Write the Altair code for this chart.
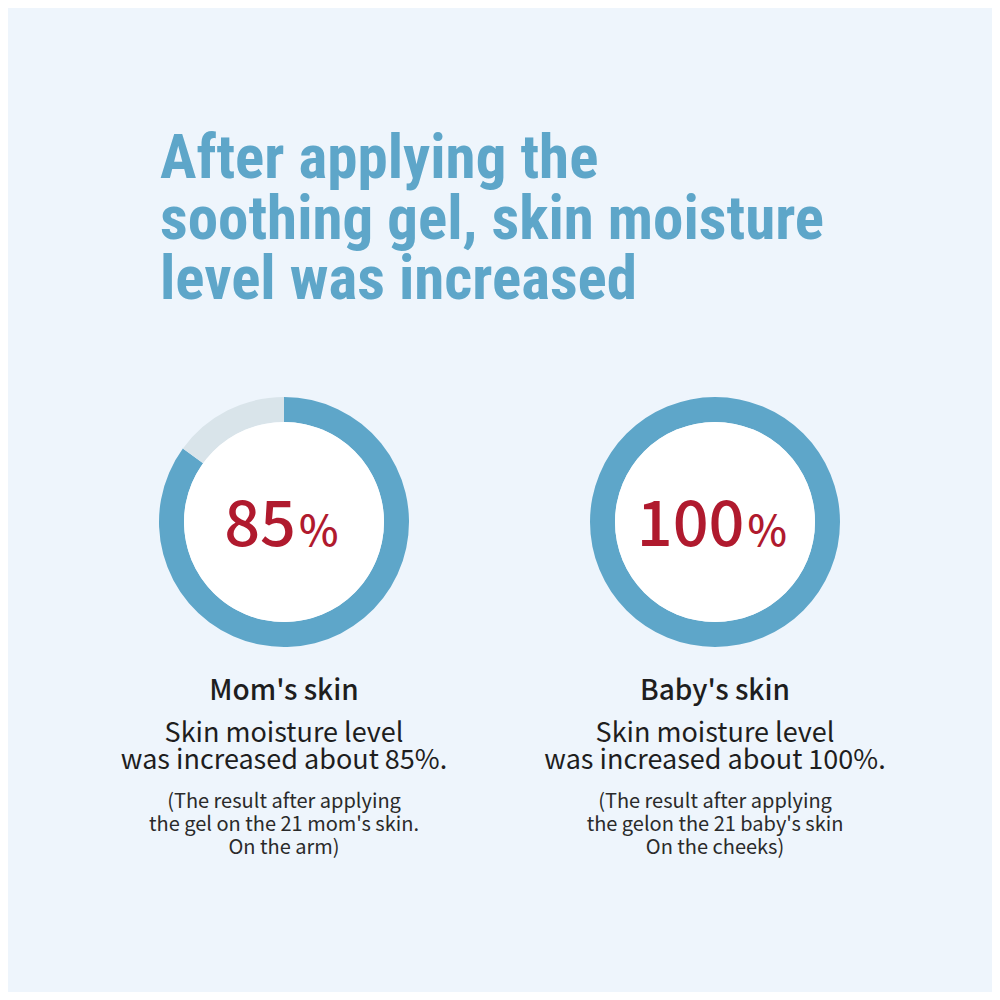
import altair as alt
import pandas as pd

# ---- data ----
title_lines = ["After applying the", "soothing gel, skin moisture", "level was increased"]
skins = ["Mom's skin", "Baby's skin"]
increase = [85, 100]
headline = ["Skin moisture level", "Skin moisture level"]
detail = ["was increased about 85%.", "was increased about 100%."]
notes = [
    ["(The result after applying", "the gel on the 21 mom's skin.", "On the arm)"],
    ["(The result after applying", "the gelon the 21 baby's skin", "On the cheeks)"],
]

# ---- style / layout ----
BG = "#eef5fc"
BLUE = "#5ea6c9"
GREY = "#d9e4ea"
RED = "#b01a2e"
DARK = "#1e1e1e"
FONT = "Noto Sans CJK KR"
TFONT = "Roboto Condensed"
OFF = 8
W = H = 984
centers_x = [284, 715]
center_y = 522
R_OUT, R_IN = 125, 100

layers = []
one = pd.DataFrame({"k": [0]})

layers.append(
    alt.Chart(one).mark_text(
        align="left", baseline="alphabetic", font=TFONT, fontWeight="bold",
        fontSize=61, lineHeight=60.5, color=BLUE
    ).encode(x=alt.value(160 - OFF), y=alt.value(178 - OFF), text=alt.value(title_lines))
)

for i, (name, val) in enumerate(zip(skins, increase)):
    cx = centers_x[i] - OFF
    cy = center_y - OFF
    ring = pd.DataFrame({"part": ["filled", "rest"], "pct": [val, 100 - val], "k": [0, 1]})
    layers.append(
        alt.Chart(ring).mark_arc(outerRadius=R_OUT, innerRadius=R_IN).encode(
            theta=alt.Theta("pct:Q", stack=True, scale=alt.Scale(domain=[0, 100])),
            color=alt.Color("part:N", scale=alt.Scale(domain=["filled", "rest"], range=[BLUE, GREY]), legend=None),
            order=alt.Order("k:Q"),
            x=alt.value(cx), y=alt.value(cy),
        )
    )
    layers.append(
        alt.Chart(one).mark_circle(size=(2 * R_IN) ** 2, color="white", opacity=1).encode(
            x=alt.value(cx), y=alt.value(cy)
        )
    )
    row = pd.DataFrame({
        "num": [str(val)], "name": [name], "head": [headline[i]], "det": [detail[i]],
        "n1": [notes[i][0]], "n2": [notes[i][1]], "n3": [notes[i][2]],
    })
    base = alt.Chart(row)
    # number + "%" centred together as one group
    shift = (len(str(val)) * 35 - 46) / 2
    layers.append(
        base.mark_text(align="right", baseline="alphabetic", font=FONT, fontWeight=500,
                       fontSize=63, color=RED).encode(
            x=alt.value(cx + shift), y=alt.value(546 - OFF), text="num:N")
    )
    layers.append(
        base.mark_text(align="left", baseline="alphabetic", font=FONT, fontWeight=500,
                       fontSize=42, color=RED).encode(
            x=alt.value(cx + shift + 3), y=alt.value(546 - OFF), text=alt.value("%"))
    )
    layers.append(
        base.mark_text(align="center", baseline="alphabetic", font=FONT, fontWeight=500,
                       fontSize=28, color=DARK).encode(
            x=alt.value(cx), y=alt.value(700 - OFF), text="name:N")
    )
    layers.append(
        base.mark_text(align="center", baseline="alphabetic", font=FONT, fontWeight=400,
                       fontSize=27, color=DARK).encode(
            x=alt.value(cx), y=alt.value(742 - OFF), text="head:N")
    )
    layers.append(
        base.mark_text(align="center", baseline="alphabetic", font=FONT, fontWeight=400,
                       fontSize=27, color=DARK).encode(
            x=alt.value(cx), y=alt.value(769 - OFF), text="det:N")
    )
    for col, yy in [("n1", 808), ("n2", 831), ("n3", 854)]:
        layers.append(
            base.mark_text(align="center", baseline="alphabetic", font=FONT, fontWeight=400,
                           fontSize=20, color="#2a2a2a").encode(
                x=alt.value(cx), y=alt.value(yy - OFF), text=f"{col}:N")
        )

chart = alt.layer(*layers).properties(
    width=W, height=H, padding=0, autosize=alt.AutoSizeParams(type="none"), background=BG
).configure_view(stroke=None)

chart.save("out.html", embed_options={"renderer": "svg", "actions": False})
